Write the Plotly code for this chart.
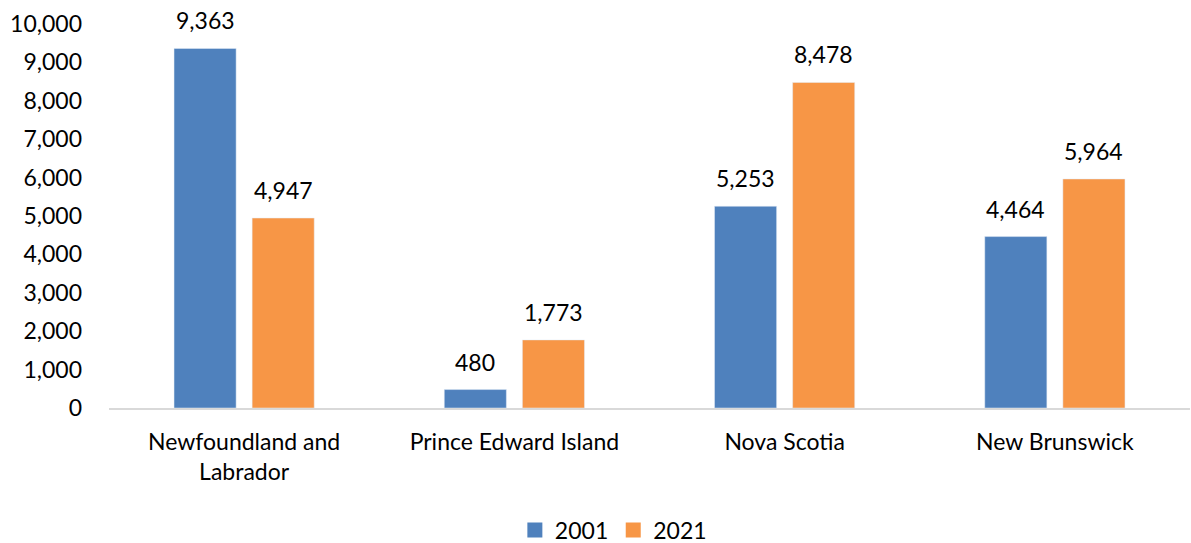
import plotly.graph_objects as go

categories = ["Newfoundland and<br>Labrador", "Prince Edward Island", "Nova Scotia", "New Brunswick"]
values_2001 = [9363, 480, 5253, 4464]
values_2021 = [4947, 1773, 8478, 5964]
y_ticks = list(range(0, 10001, 1000))
series = [("2001", values_2001, "#4F81BD", -39), ("2021", values_2021, "#F79646", 39)]

FONT = "Lato"
fig = go.Figure()
for name, vals, color, dx in series:
    fig.add_trace(go.Bar(x=categories, y=vals, name=name, marker_color=color, showlegend=False))
for name, vals, color, dx in series:
    fig.add_trace(go.Scatter(x=[None], y=[None], mode="markers", name=name,
                             marker=dict(symbol="square", size=15, color=color)))
    for c, v in zip(categories, vals):
        fig.add_annotation(x=c, y=v, xref="x", yref="y", text=f"{v:,}", showarrow=False,
                           xshift=dx, yshift=12, yanchor="bottom",
                           font=dict(size=23, color="#000000", family=FONT))

fig.update_layout(
    width=1191, height=543,
    margin=dict(l=109, r=1, t=24, b=135, autoexpand=False),
    paper_bgcolor="white", plot_bgcolor="white",
    font=dict(family=FONT, size=23, color="#000000"),
    barmode="group", bargap=0.422, bargroupgap=0.205,
    showlegend=True,
    legend=dict(orientation="h", x=0.515, xref="container", xanchor="center",
                y=0.024, yref="container", yanchor="middle",
                font=dict(size=23), itemwidth=30, traceorder="normal"),
)
fig.update_yaxes(range=[0, 10000], tickvals=y_ticks, tickformat=",", showgrid=False,
                 zeroline=False, showline=False, ticks="", ticklabelstandoff=26)
fig.update_xaxes(showline=True, linecolor="#D9D9D9", linewidth=1.5, showgrid=False,
                 ticks="", ticklabelstandoff=13)

fig.write_html("out.html")
